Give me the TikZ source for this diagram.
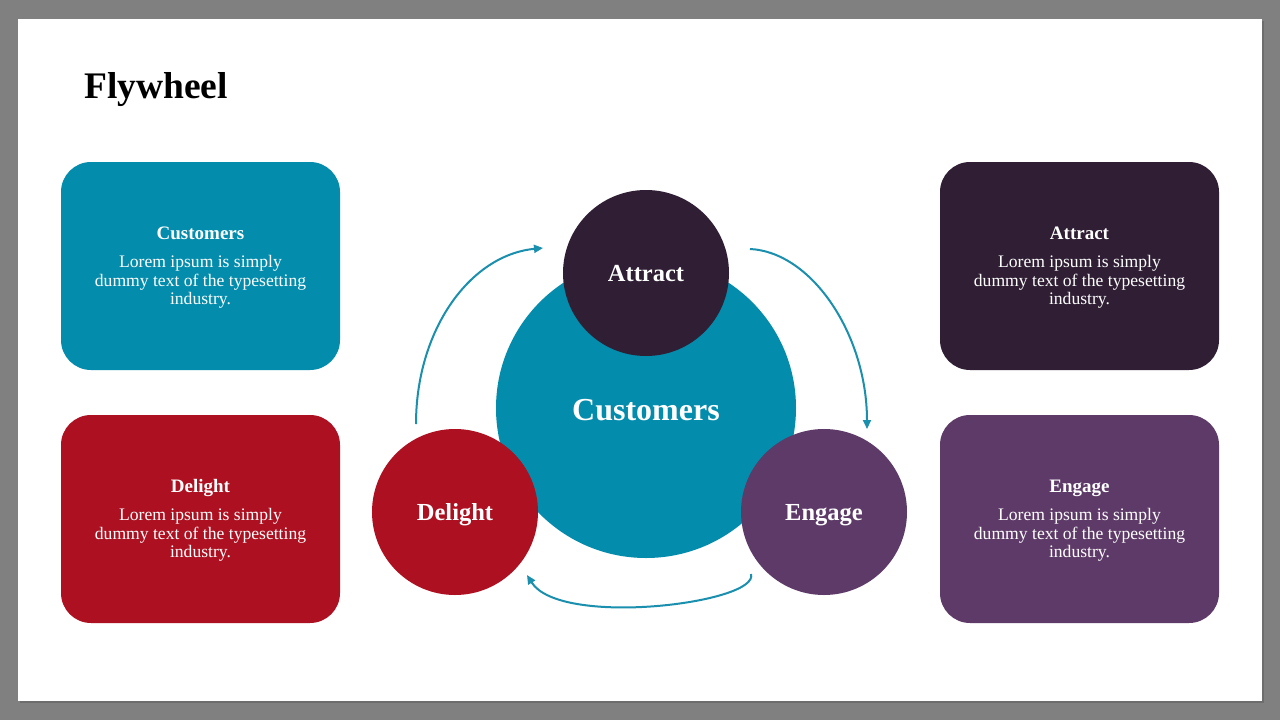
\documentclass[tikz,border=0pt]{standalone}
\usepackage{fontspec}
\setmainfont{Liberation Serif}
\usetikzlibrary{arrows.meta}
\definecolor{bggray}{HTML}{808080}
\definecolor{teal1}{HTML}{038CAC}
\definecolor{red1}{HTML}{AD1020}
\definecolor{dark1}{HTML}{2F1E34}
\definecolor{purp1}{HTML}{5E3A68}
\definecolor{arr1}{HTML}{1A8FAE}
\tikzset{
  cardbox/.style={rounded corners=30pt, draw=none},
  bigcirc/.style={circle, draw=none, inner sep=0pt},
  cardtitle/.style={anchor=base, text=white, font=\bfseries\fontsize{19}{21}\selectfont, inner sep=0pt},
  cardtext/.style={anchor=base, text=white, font=\fontsize{17.6}{19}\selectfont, inner sep=0pt},
  circlabel/.style={anchor=base, text=white, font=\bfseries\fontsize{24.5}{28}\selectfont, inner sep=0pt},
  flow/.style={draw=arr1, line width=2pt, -{Triangle[length=9pt,width=8pt]}}
}
\begin{document}
\begin{tikzpicture}[x=1pt,y=-1pt]
\useasboundingbox (0,0) rectangle (1280,720);
\fill[bggray] (0,0) rectangle (1280,720);
\fill[bggray!85!black] (20,21) rectangle (1264,703);
\fill[white] (18,19) rectangle (1262,701);

% title
\node[anchor=base west, inner sep=0pt, font=\bfseries\fontsize{37.5}{42}\selectfont] (title) at (84,98) {Flywheel};

% cards
\fill[teal1, cardbox] (61,162) rectangle (340,370);
\fill[red1, cardbox] (61,415) rectangle (340,623);
\fill[dark1, cardbox] (940,162) rectangle (1219,370);
\fill[purp1, cardbox] (940,415) rectangle (1219,623);

% card texts: customers
\node[cardtitle] (ct) at (200.5,239) {Customers};
\node[cardtext] (c1) at (200.5,267) {Lorem ipsum is simply};
\node[cardtext] (c2) at (200.5,286) {dummy text of the typesetting};
\node[cardtext] (c3) at (200.5,304.5) {industry.};
% delight
\node[cardtitle] (dt) at (200.5,492) {Delight};
\node[cardtext] (d1) at (200.5,520) {Lorem ipsum is simply};
\node[cardtext] (d2) at (200.5,539) {dummy text of the typesetting};
\node[cardtext] (d3) at (200.5,557.5) {industry.};
% attract
\node[cardtitle] (at) at (1079.5,239) {Attract};
\node[cardtext] (a1) at (1079.5,267) {Lorem ipsum is simply};
\node[cardtext] (a2) at (1079.5,286) {dummy text of the typesetting};
\node[cardtext] (a3) at (1079.5,304.5) {industry.};
% engage
\node[cardtitle] (et) at (1079.5,492) {Engage};
\node[cardtext] (e1) at (1079.5,520) {Lorem ipsum is simply};
\node[cardtext] (e2) at (1079.5,539) {dummy text of the typesetting};
\node[cardtext] (e3) at (1079.5,557.5) {industry.};

% circles
\node[bigcirc, fill=teal1, minimum size=300pt] (cust) at (646,408) {};
\node[bigcirc, fill=dark1, minimum size=166pt] (attr) at (646,273) {};
\node[bigcirc, fill=red1, minimum size=166pt] (deli) at (455,512) {};
\node[bigcirc, fill=purp1, minimum size=166pt] (enga) at (824,512) {};

\node[anchor=base, text=white, inner sep=0pt, font=\bfseries\fontsize{32}{35}\selectfont] (custl) at (646,420) {Customers};
\node[circlabel] (attrl) at (646,281) {Attract};
\node[circlabel] (delil) at (455,520) {Delight};
\node[circlabel] (engal) at (824,520) {Engage};

% arrows
\coordinate (p1s) at (416,424);
\coordinate (p1e) at (543,248);
\coordinate (p2s) at (750,249);
\coordinate (p2e) at (867,429);
\coordinate (p3s) at (751,574);
\coordinate (p3e) at (527,575);
\draw[flow] (p1s) .. controls (416,330) and (470,255) .. (p1e);
\draw[flow] (p2s) .. controls (812,252) and (867,335) .. (p2e);
\draw[flow] (p3s) .. controls (760,603) and (560,628) .. (p3e);
\end{tikzpicture}
\end{document}
